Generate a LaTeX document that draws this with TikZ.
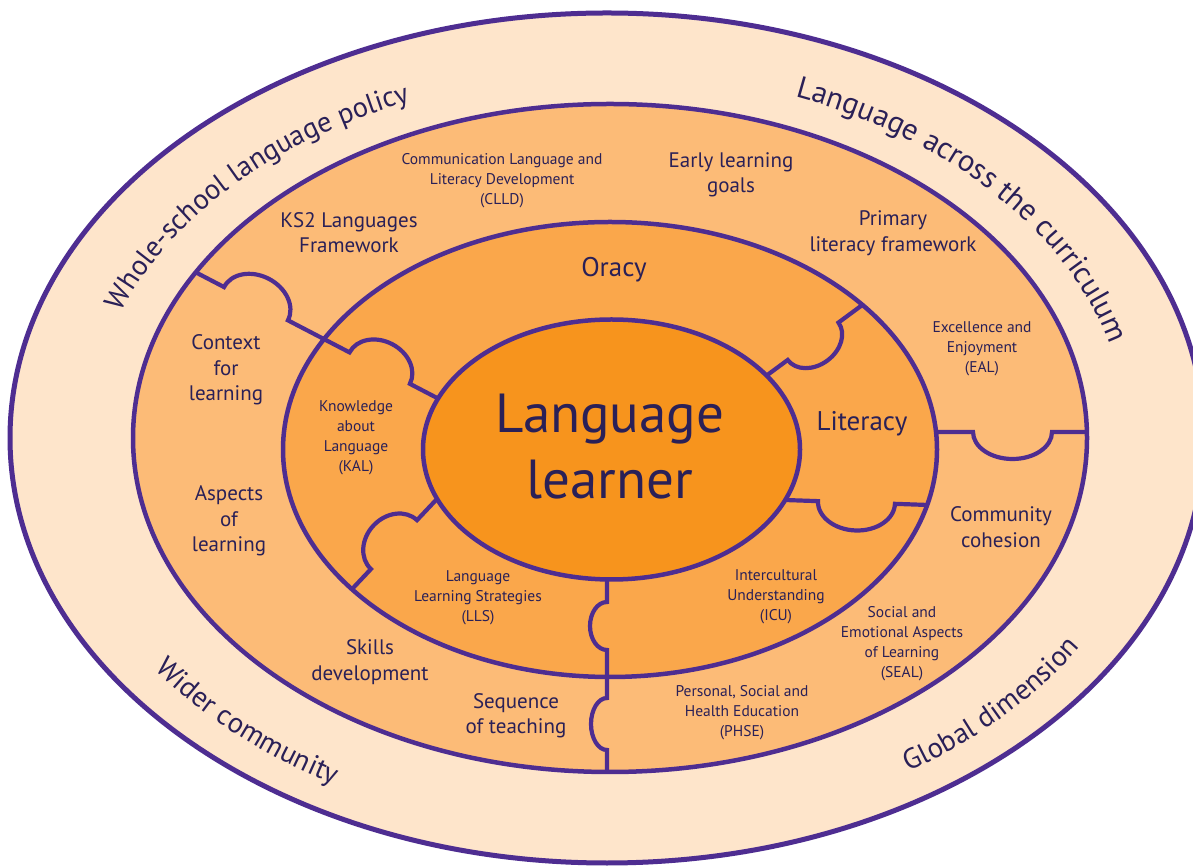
\documentclass[tikz,border=0pt]{standalone}
\usepackage{fontspec}
\setmainfont{PT Sans}
\usetikzlibrary{decorations.text,calc}
\definecolor{ringA}{HTML}{FEE5CB}
\definecolor{ringB}{HTML}{FCBB77}
\definecolor{ringC}{HTML}{FAA74B}
\definecolor{core}{HTML}{F7941D}
\definecolor{edge}{HTML}{4E2D91}
\definecolor{txt}{HTML}{2A2057}
\begin{document}
\begin{tikzpicture}[x=1pt,y=1pt,
  border/.style={draw=edge,line width=4.5pt},
  seam/.style={draw=edge,line width=4.2pt,line join=miter},
  lab/.style={text=txt,align=center,inner sep=0pt,font=\fontsize{21}{25.5}\selectfont},
  sml/.style={text=txt,align=center,inner sep=0pt,font=\fontsize{15.5}{20}\selectfont},
  mid/.style={text=txt,align=center,inner sep=0pt,font=\fontsize{27}{32}\selectfont},
  big/.style={text=txt,align=center,inner sep=0pt,font=\fontsize{55}{66}\selectfont},
]
\useasboundingbox (0,0) rectangle (1193,867);
\clip (0,0) rectangle (1193,867);
\fill[white] (0,0) rectangle (1193,867);
% outer ring
\path[fill=ringA,border,line width=5pt] (607,429) ellipse [x radius=597pt, y radius=425pt];
% second ring
\fill[ringB] (610,429) ellipse [x radius=477pt, y radius=334pt];
% divider EAL / Community cohesion
\begin{scope}
  \clip (610,429) ellipse [x radius=477pt, y radius=334pt];
  \draw[seam] (915,435) -- (973,435) arc[start angle=180,end angle=360,x radius=39.5pt,y radius=27pt] -- (1100,435);
\end{scope}
% third ring
\fill[ringC] (610,417.5) ellipse [x radius=327pt, y radius=227.5pt];
\begin{scope}
  \clip (610,417.5) ellipse [x radius=327pt, y radius=227.5pt];
  % Oracy / Literacy
  \begin{scope}[shift={(865,564)},rotate=216.4]
    \draw[seam] (-15,0) -- (33,0) arc[start angle=180,end angle=0,x radius=31.5pt,y radius=24pt] -- (150,0);
  \end{scope}
  % Literacy / ICU
  \begin{scope}[shift={(785,367)},rotate=-2]
    \draw[seam] (-15,0) -- (33,0) arc[start angle=180,end angle=360,x radius=38.5pt,y radius=28pt] -- (170,0);
  \end{scope}
  % KAL / LLS
  \begin{scope}[shift={(436,367)},rotate=226.7]
    \draw[seam] (-15,0) -- (27.7,0) arc[start angle=180,end angle=360,x radius=33.6pt,y radius=28pt] -- (150,0);
  \end{scope}
\end{scope}
\begin{scope}
  \clip (610,429) ellipse [x radius=477pt, y radius=334pt];
  % upper-left divider through both rings
  \begin{scope}[shift={(197,594)},rotate=-27.5]
    \draw[seam] (-20,0) -- (30.5,0) arc[start angle=180,end angle=0,x radius=36pt,y radius=28pt] -- (172,0) arc[start angle=180,end angle=0,x radius=34pt,y radius=27pt] -- (290,0);
  \end{scope}
  % bottom vertical divider through both rings
  \begin{scope}[shift={(607,288)},rotate=-90]
    \draw[seam] (-20,0) -- (23,0) arc[start angle=180,end angle=360,x radius=24pt,y radius=17pt] -- (119,0) arc[start angle=180,end angle=360,x radius=26pt,y radius=16pt] -- (210,0);
  \end{scope}
\end{scope}
\draw[border] (610,429) ellipse [x radius=477pt, y radius=334pt];
\draw[border] (610,417.5) ellipse [x radius=327pt, y radius=227.5pt];
\path[fill=core,border] (611.5,417.5) ellipse [x radius=188.5pt, y radius=130pt];
% curved outer texts
\path[decorate,decoration={text along path,text align=center,
  text={|\fontsize{28.5}{30}\selectfont\color{txt}|Whole-school language policy}}]
  ($(607,429)+(178:518pt and 364pt)$) arc[start angle=178,end angle=99,x radius=518pt,y radius=364pt];
\path[decorate,decoration={text along path,text align=center,
  text={|\fontsize{30.5}{30}\selectfont\color{txt}|Language across the curriculum}}]
  ($(607,429)+(81:520pt and 366pt)$) arc[start angle=81,end angle=-2,x radius=520pt,y radius=366pt];
\path[decorate,decoration={text along path,text align=center,
  text={|\fontsize{28.5}{30}\selectfont\color{txt}|Wider community}}]
  ($(607,429)+(194:557pt and 397pt)$) arc[start angle=194,end angle=258,x radius=557pt,y radius=397pt];
\path[decorate,decoration={text along path,text align=center,
  text={|\fontsize{28.5}{30}\selectfont\color{txt}|Global dimension}}]
  ($(607,429)+(-73:557pt and 397pt)$) arc[start angle=-73,end angle=-12,x radius=557pt,y radius=397pt];
% labels
\node[sml] (clld) at (502,686.5) {Communication Language and\\Literacy Development\\(CLLD)};
\node[lab] (elg) at (731,692) {Early learning\\goals};
\node[lab] (ks2) at (349,634.5) {KS2 Languages\\Framework};
\node[lab] (plf) at (893,634) {Primary\\literacy framework};
\node[sml] (eal) at (982,518) {Excellence and\\Enjoyment\\(EAL)};
\node[lab] (cfl) at (226,497) {Context\\for\\learning};
\node[lab] (aol) at (229,346) {Aspects\\of\\learning};
\node[lab] (cc) at (1001,340) {Community\\cohesion};
\node[lab] (sd) at (370,205) {Skills\\development};
\node[lab] (sot) at (516,151) {Sequence\\of teaching};
\node[sml] (seal) at (902,223) {Social and\\Emotional Aspects\\of Learning\\(SEAL)};
\node[sml] (phse) at (742,154) {Personal, Social and\\Health Education\\(PHSE)};
\node[mid] (ora) at (614,597) {Oracy};
\node[mid] (lit) at (862,443) {Literacy};
\node[sml] (kal) at (356,429) {Knowledge\\about\\Language\\(KAL)};
\node[sml] (lls) at (478,269) {Language\\Learning Strategies\\(LLS)};
\node[sml] (icu) at (776,270) {Intercultural\\Understanding\\(ICU)};
\node[big] (ll) at (610,420) {Language\\learner};
\end{tikzpicture}
\end{document}
